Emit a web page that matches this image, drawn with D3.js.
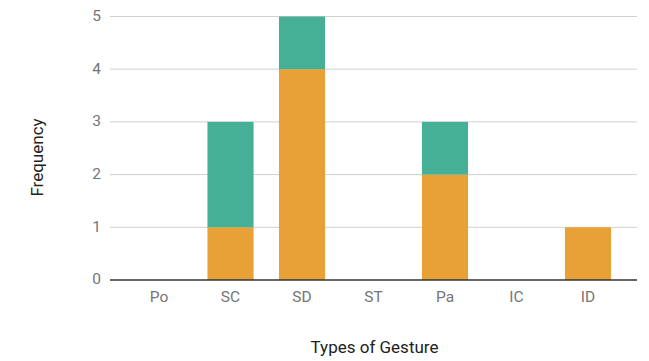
<!DOCTYPE html>
<html>
<head>
<meta charset="utf-8">
<script src="https://cdn.jsdelivr.net/npm/d3@7"></script>
<style>
  html, body { margin: 0; padding: 0; background: #fff; }
  svg { display: block; font-family: Roboto, "Noto Sans", sans-serif; }
</style>
</head>
<body>
<svg id="chart" width="649" height="361"></svg>
<script>
// Gesture types and their frequencies, stacked in two series
const categories = ["Po", "SC", "SD", "ST", "Pa", "IC", "ID"];
const seriesBase = [0, 1, 4, 0, 2, 0, 1];   // orange, bottom of stack
const seriesTop  = [0, 2, 1, 0, 1, 0, 0];   // green, stacked on top
const yTicks = [0, 1, 2, 3, 4, 5];
const seriesColors = ["#e8a137", "#46b097"];

const svg = d3.select("#chart");
const plot = { left: 110, right: 637, top: 16.5, bottom: 280 };

const x = d3.scaleBand()
  .domain(categories)
  .range([plot.left, plot.right])
  .paddingInner(0.355)
  .paddingOuter(0.363);

const y = d3.scaleLinear()
  .domain([0, 5])
  .range([plot.bottom, plot.top]);

// Horizontal gridlines
svg.append("g")
  .selectAll("line")
  .data(yTicks.filter(d => d > 0))
  .join("line")
  .attr("x1", plot.left)
  .attr("x2", plot.right)
  .attr("y1", d => y(d))
  .attr("y2", d => y(d))
  .attr("stroke", "#d0d0d0")
  .attr("stroke-width", 1);

// Stacked bars
const rows = categories.map((c, i) => ({ cat: c, base: seriesBase[i], top: seriesTop[i] }));
const stack = d3.stack().keys(["base", "top"])(rows);

svg.append("g")
  .selectAll("g")
  .data(stack)
  .join("g")
  .attr("fill", (d, i) => seriesColors[i])
  .selectAll("rect")
  .data(d => d)
  .join("rect")
  .attr("x", d => x(d.data.cat))
  .attr("width", x.bandwidth())
  .attr("y", d => y(d[1]))
  .attr("height", d => y(d[0]) - y(d[1]));

// Baseline
svg.append("line")
  .attr("x1", plot.left)
  .attr("x2", plot.right)
  .attr("y1", y(0))
  .attr("y2", y(0))
  .attr("stroke", "#333")
  .attr("stroke-width", 1.5);

// Y axis tick labels
const yAxis = d3.axisLeft(y).tickValues(yTicks).tickSize(0).tickPadding(0).tickFormat(d3.format("d"));
svg.append("g")
  .attr("transform", `translate(${plot.left - 9},-1)`)
  .call(yAxis)
  .call(g => g.select(".domain").remove())
  .call(g => g.selectAll("text")
    .attr("fill", "#757575")
    .attr("font-size", 15.5)
    .attr("font-family", "Roboto, sans-serif"));

// X axis tick labels
const xAxis = d3.axisBottom(x).tickSize(0).tickPadding(0);
svg.append("g")
  .attr("transform", `translate(0,${plot.bottom + 11})`)
  .call(xAxis)
  .call(g => g.select(".domain").remove())
  .call(g => g.selectAll("text")
    .attr("fill", "#757575")
    .attr("font-size", 15.5)
    .attr("font-family", "Roboto, sans-serif"));

// Axis titles
svg.append("text")
  .attr("x", 374.5)
  .attr("y", 352.5)
  .attr("text-anchor", "middle")
  .attr("fill", "#222")
  .attr("font-size", 17)
  .text("Types of Gesture");

svg.append("text")
  .attr("transform", "translate(42.5,157.5) rotate(-90)")
  .attr("text-anchor", "middle")
  .attr("fill", "#222")
  .attr("font-size", 17)
  .text("Frequency");
</script>
</body>
</html>
